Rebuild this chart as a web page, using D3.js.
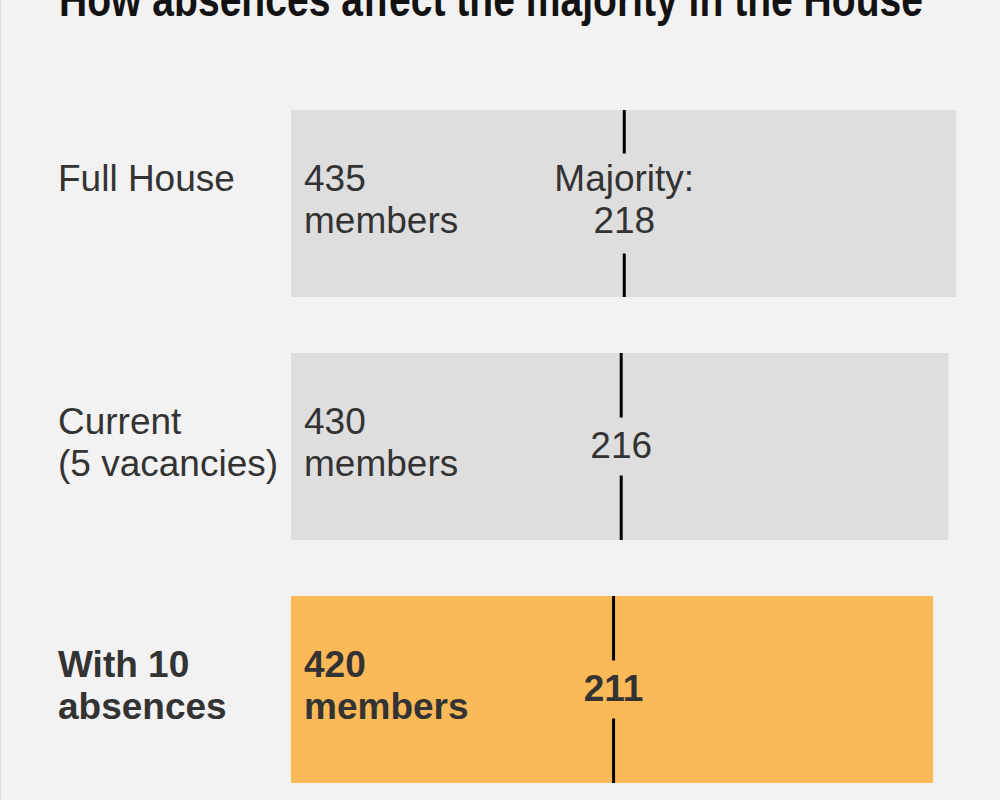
<!DOCTYPE html>
<html>
<head>
<meta charset="utf-8">
<script src="https://cdn.jsdelivr.net/npm/d3@7"></script>
<style>
  body { margin: 0; background: #f2f2f2; }
  svg { display: block; }
</style>
</head>
<body>
<script>
// chart values
var rowLabels = [["Full House"], ["Current", "(5 vacancies)"], ["With 10", "absences"]];
var members = [435, 430, 420];
var majority = [218, 216, 211];
var highlight = [false, false, true];
var title = "How absences affect the majority in the House";

var width = 1000, height = 800;
var font = "'Liberation Sans', Arial, sans-serif";

var svg = d3.select("body").append("svg")
  .attr("width", width)
  .attr("height", height);

svg.append("rect")
  .attr("width", width).attr("height", height)
  .attr("fill", "#f2f2f2");
svg.append("line")
  .attr("x1", 0.5).attr("x2", 0.5).attr("y1", 0).attr("y2", height)
  .attr("stroke", "#dcdcdc");

// title is cropped at the top edge, like the reference
svg.append("text")
  .attr("x", 59).attr("y", 16)
  .attr("font-family", font)
  .attr("font-weight", "bold")
  .attr("font-size", 48)
  .attr("textLength", 864)
  .attr("lengthAdjust", "spacingAndGlyphs")
  .attr("fill", "#121212")
  .text(title);

var x = d3.scaleLinear().domain([0, 435]).range([291, 956]);
var y = d3.scaleBand().domain(d3.range(members.length)).range([110, 783]).paddingInner(56 / 243);

var rows = svg.selectAll("g.row")
  .data(members.map(function(m, i) {
    return { i: i, members: m, majority: majority[i], label: rowLabels[i], hi: highlight[i] };
  }))
  .enter().append("g").attr("class", "row");

rows.append("rect")
  .attr("x", x(0))
  .attr("y", function(d) { return y(d.i); })
  .attr("width", function(d) { return x(d.members) - x(0); })
  .attr("height", y.bandwidth())
  .attr("fill", function(d) { return d.hi ? "#fbb958" : "#dedede"; });

function textAt(g, xp, yp, str, bold, anchor) {
  g.append("text")
    .attr("x", xp).attr("y", yp)
    .attr("font-family", font)
    .attr("font-size", 37)
    .attr("font-weight", bold ? "bold" : "normal")
    .attr("text-anchor", anchor || "start")
    .attr("fill", "#333")
    .text(str);
}

rows.each(function(d) {
  var g = d3.select(this);
  var top = y(d.i), bw = y.bandwidth(), mid = top + bw / 2;
  var line1 = mid - 13, line2 = mid + 29;

  // row label
  d.label.forEach(function(s, k) {
    textAt(g, 58, k == 0 ? line1 : line2, s, d.hi);
  });

  // member count
  textAt(g, 304, line1, d.members, d.hi);
  textAt(g, 304, line2, "members", d.hi);

  // majority marker
  var mx = x(d.majority), gap;
  if (d.i == 0) {
    textAt(g, mx, line1, "Majority:", d.hi, "middle");
    textAt(g, mx, line2, d.majority, d.hi, "middle");
    gap = 50;
  } else {
    textAt(g, mx, mid + 11, d.majority, d.hi, "middle");
    gap = 29;
  }
  g.append("line")
    .attr("x1", mx).attr("x2", mx)
    .attr("y1", top).attr("y2", mid - gap)
    .attr("stroke", "#000").attr("stroke-width", 3);
  g.append("line")
    .attr("x1", mx).attr("x2", mx)
    .attr("y1", mid + gap).attr("y2", top + bw)
    .attr("stroke", "#000").attr("stroke-width", 3);
});
</script>
</body>
</html>
